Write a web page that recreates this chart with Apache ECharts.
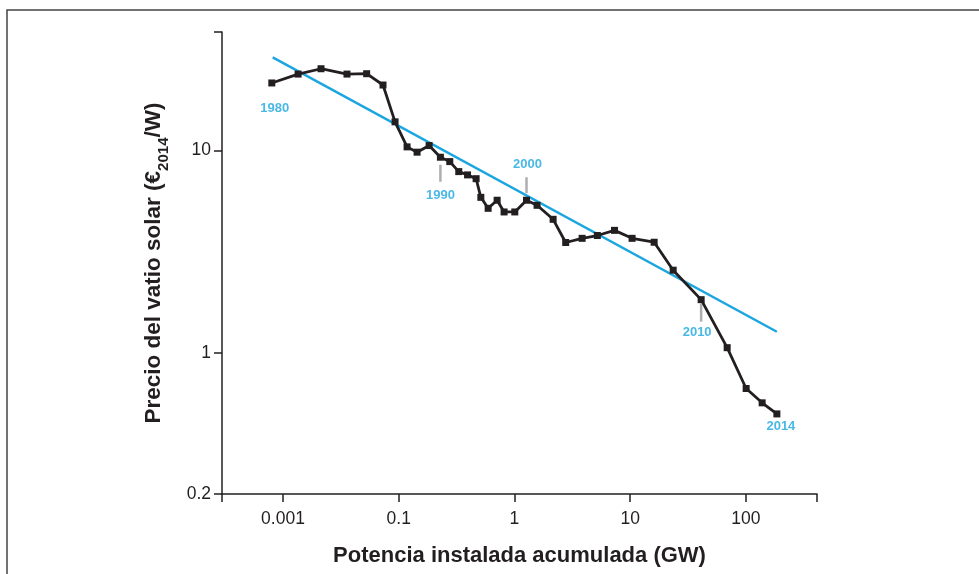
<!DOCTYPE html>
<html>
<head>
<meta charset="utf-8">
<script src="https://cdn.jsdelivr.net/npm/echarts@6/dist/echarts.min.js"></script>
<style>
  html, body { margin: 0; padding: 0; background: #fff; }
  #chartsDiv { width: 979px; height: 574px; }
</style>
</head>
<body>
<div id="chartsDiv"></div>
<script>
// potencia instalada acumulada (GW) leida respecto a las marcas del eje
var capacidad = [0.0080, 0.0135, 0.0213, 0.0357, 0.0528, 0.0731, 0.0929, 0.118, 0.144, 0.183,
  0.229, 0.276, 0.330, 0.393, 0.466, 0.512, 0.592, 0.708, 0.813, 1.006,
  1.27, 1.567, 2.157, 2.77, 3.84, 5.20, 7.31, 10.38, 16.1, 23.5,
  41.0, 68.8, 100.4, 138, 185]
// precio (EUR 2014 / W)
var precio = [21.6, 23.9, 25.4, 23.9, 24.0, 21.1, 13.87, 10.43, 9.82, 10.59,
  9.27, 8.82, 7.87, 7.58, 7.26, 5.87, 5.18, 5.68, 4.97, 4.97,
  5.68, 5.36, 4.57, 3.51, 3.68, 3.80, 4.03, 3.68, 3.52, 2.56,
  1.83, 1.059, 0.665, 0.565, 0.498]
// recta de tendencia (extremos)
var tendenciaX = [0.00815, 185]
var tendenciaY = [28.9, 1.27]
// anos marcados y su indice en la serie
var anos = ['1980', '1990', '2000', '2010', '2014']
var anoIndice = [0, 10, 20, 30, 34]
// etiquetas de los ejes
var xTicks = [0.01, 0.1, 1, 10, 100]
var xTickLabels = ['0.001', '0.1', '1', '10', '100']
var yTicks = [0.2, 1, 10]
var yTickLabels = ['0.2', '1', '10']

// estilo de las anotaciones: [dx etiqueta, dy etiqueta, dy marca, largo marca]
var anoEstilo = [
  [3, 25, 0, 0],
  [0, 38, 16, 17],
  [1, -36, -15, 16],
  [-4, 33, 13, 18],
  [4, 13, 0, 0]
]

var narrow = "'Liberation Sans Narrow', 'Arial Narrow', 'Liberation Sans', sans-serif"
var ink = '#231f20'
var azul = '#1ba6e0'

var findLabel = function(value, ticks, labels) {
  for (var i = 0; i < ticks.length; i++) {
    if (Math.abs(value - ticks[i]) / ticks[i] < 1e-6) return labels[i]
  }
  return ''
}

var serieDatos = capacidad.map(function(c, i) { return [c, precio[i]] })
var serieTendencia = tendenciaX.map(function(c, i) { return [c, tendenciaY[i]] })

var marcas = []
var etiquetas = []
anos.forEach(function(a, k) {
  var i = anoIndice[k]
  var st = anoEstilo[k]
  if (st[3] > 0) {
    marcas.push({
      value: [capacidad[i], precio[i]],
      symbolSize: [2.5, st[3]],
      symbolOffset: [0, st[2]]
    })
  }
  etiquetas.push({
    value: [capacidad[i], precio[i]],
    label: { formatter: a, offset: [st[0], st[1]] }
  })
})

var realChart = echarts.init(document.getElementById('chartsDiv'), null, { renderer: 'canvas' })

var option = {
  animation: false,
  backgroundColor: '#fff',
  graphic: [
    {
      type: 'rect',
      shape: { x: 7, y: 10, width: 1200, height: 800 },
      style: { fill: 'none', stroke: '#444', lineWidth: 1.5 },
      silent: true
    }
  ],
  grid: { left: 222, right: 162, top: 32, bottom: 80, containLabel: false },
  xAxis: {
    type: 'log',
    logBase: 10,
    min: 0.00297,
    max: 411,
    name: 'Potencia instalada acumulada (GW)',
    nameLocation: 'middle',
    nameGap: 51,
    nameTextStyle: { fontFamily: narrow, fontWeight: 'bold', fontSize: 22, color: ink },
    axisLine: { lineStyle: { color: ink, width: 1.5 } },
    axisTick: { length: 8, lineStyle: { color: ink, width: 1.5 } },
    splitLine: { show: false },
    minorTick: { show: false },
    axisLabel: {
      margin: 16,
      fontFamily: narrow,
      fontSize: 17.5,
      color: ink,
      formatter: function(value) {
        return findLabel(value, xTicks, xTickLabels)
      }
    }
  },
  yAxis: {
    type: 'log',
    logBase: 10,
    min: 0.2,
    max: 38.6,
    name: 'Precio del vatio solar (€{sub|2014}/W)',
    nameLocation: 'middle',
    nameRotate: 90,
    nameGap: 57,
    nameTextStyle: {
      fontFamily: narrow,
      fontWeight: 'bold',
      fontSize: 22.5,
      color: ink,
      rich: {
        sub: {
          fontFamily: narrow,
          fontWeight: 'bold',
          fontSize: 15,
          color: ink,
          verticalAlign: 'bottom',
          padding: [0, 0, -6, 0]
        }
      }
    },
    axisLine: { lineStyle: { color: ink, width: 1.5 } },
    axisTick: { length: 8, lineStyle: { color: ink, width: 1.5 } },
    splitLine: { show: false },
    axisLabel: {
      margin: 11,
      fontFamily: narrow,
      fontSize: 17.5,
      color: ink,
      formatter: function(value) {
        return findLabel(value, yTicks, yTickLabels)
      }
    }
  },
  series: [
    {
      name: 'tendencia',
      type: 'line',
      data: serieTendencia,
      symbol: 'none',
      lineStyle: { color: azul, width: 2.5 },
      z: 2
    },
    {
      name: 'precio',
      type: 'line',
      data: serieDatos,
      symbol: 'rect',
      symbolSize: 7,
      itemStyle: { color: ink },
      lineStyle: { color: ink, width: 2.8 },
      z: 3
    },
    {
      name: 'marcas',
      type: 'scatter',
      data: marcas,
      symbol: 'rect',
      itemStyle: { color: '#9a9a9a' },
      z: 1
    },
    {
      name: 'anos',
      type: 'scatter',
      data: etiquetas,
      symbolSize: 0,
      label: {
        show: true,
        position: 'inside',
        fontFamily: "'Liberation Sans', Arial, sans-serif",
        fontWeight: 'bold',
        fontSize: 13,
        color: azul
      },
      z: 4
    }
  ]
}

realChart.setOption(option)
</script>
</body>
</html>
